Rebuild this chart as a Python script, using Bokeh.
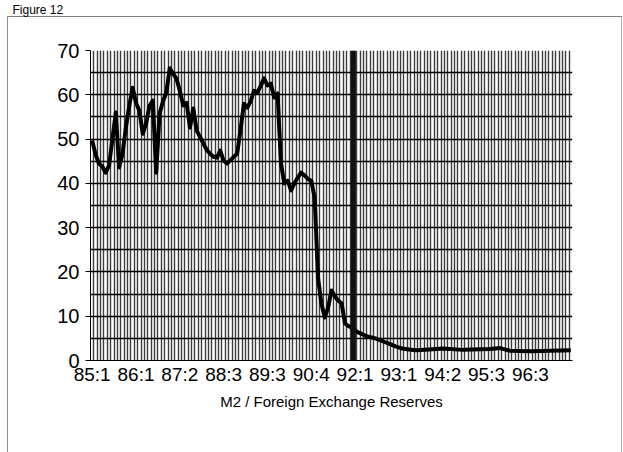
from bokeh.plotting import figure
from bokeh.models import FixedTicker, Range1d
from bokeh.embed import file_html
from bokeh.resources import INLINE

# ---- data ----
period_idx = [0, 1, 2, 3, 4, 5, 6, 7, 8, 9, 10, 11, 12, 13, 14, 15, 16, 17, 18, 19,
              20, 21, 22, 23, 24, 25, 26, 27, 28, 29, 30, 31, 32, 33, 34, 35, 36, 37, 38, 39,
              40, 41, 42, 43, 44, 45, 46, 47, 48, 49, 50, 51, 52, 53, 54, 55, 56, 57, 58, 59,
              60, 61, 62, 63, 64, 65, 66, 67, 68, 69, 70, 71, 72, 73, 74, 75, 76, 77, 78, 79,
              80, 81, 82, 83, 84, 86, 88, 90, 92, 94, 96, 100, 104, 110, 118, 121, 124, 130, 136, 142]
m2_fx_ratio = [49.7, 46.5, 44.5, 43.8, 42.4, 44.0, 50.0, 56.0, 43.6, 46.7, 52.6, 57.5, 61.6, 58.2, 56.4, 51.2, 53.5, 57.5, 58.7, 42.4,
               55.8, 58.5, 60.5, 66.0, 64.8, 63.7, 60.9, 57.6, 58.2, 52.6, 56.9, 51.9, 50.5, 49.0, 47.5, 46.7, 46.0, 45.8, 47.4, 45.1,
               44.5, 45.2, 46.0, 46.7, 52.0, 58.0, 57.1, 58.5, 60.9, 60.5, 62.0, 63.7, 62.1, 62.5, 59.4, 60.3, 44.5, 40.0, 40.6, 38.4,
               40.0, 41.3, 42.4, 41.8, 41.0, 40.6, 36.8, 18.7, 12.9, 9.7, 12.0, 15.8, 14.5, 13.5, 12.9, 8.4, 7.8, 7.4, 6.8, 6.3,
               6.0, 5.6, 5.4, 5.2, 5.0, 4.4, 3.8, 3.2, 2.7, 2.5, 2.3, 2.5, 2.7, 2.4, 2.6, 2.8, 2.2, 2.1, 2.2, 2.3]
tick_labels = ["85:1", "86:1", "87:2", "88:3", "89:3", "90:4", "92:1", "93:1", "94:2", "95:3", "96:3"]
label_step = 13
n_periods = 143
event_period = 78
y_ticks = [0, 10, 20, 30, 40, 50, 60, 70]
y_grid_vals = [0, 5, 10, 15, 20, 25, 30, 35, 40, 45, 50, 55, 60, 65, 70]
axis_title = "M2 / Foreign Exchange Reserves"
figure_title = "Figure 12"

FONT = "Liberation Sans"

W, H = 623, 452
BL, BR, BT, BB = 90, 51, 50, 92
p = figure(width=W, height=H, output_backend="svg", toolbar_location=None,
           x_range=Range1d(0, n_periods), y_range=Range1d(0, 70),
           min_border_left=BL, min_border_right=BR, min_border_top=BT, min_border_bottom=BB,
           background_fill_color="white", border_fill_color="white", border_fill_alpha=0.0)
p.outline_line_color = None

# scanned page frame (thin grey lines left, top, right) drawn as host background
p.styles = {
    "background": ("linear-gradient(#808080,#808080) 7px 16px / 615px 1px no-repeat, "
                   "linear-gradient(#8c8c8c,#8c8c8c) 7px 16px / 1px 436px no-repeat, "
                   "linear-gradient(#b0b0b0,#b0b0b0) 621px 16px / 1px 436px no-repeat, white")
}

# caption at the very top (bottom padding pushes it up, away from the plot)
p.title.text = figure_title
p.title.align = "left"
p.title.offset = -78
p.title.standoff = 0
p.title.padding = (0, 0, 0, 34)
p.title.text_font = FONT
p.title.text_font_size = "12px"
p.title.text_font_style = "normal"
p.title.text_color = "black"

# grids
p.ygrid.ticker = FixedTicker(ticks=y_grid_vals)
p.ygrid.grid_line_color = "black"
p.ygrid.grid_line_width = 1.4
p.xgrid.ticker = FixedTicker(ticks=list(range(0, n_periods + 1)))
p.xgrid.grid_line_color = "#1a1a1a"
p.xgrid.grid_line_alpha = 0.85
p.xgrid.grid_line_width = 1.4

# data line
xs = [i + 0.5 for i in period_idx]
p.line(xs, m2_fx_ratio, line_width=4, color="black", line_join="round")

# event marker
p.segment(x0=[event_period], y0=[0], x1=[event_period], y1=[70],
          line_width=5, color="#111111")

# y axis
p.yaxis.ticker = FixedTicker(ticks=y_ticks)
p.yaxis.major_tick_out = 5
p.yaxis.major_tick_in = 0
p.yaxis.minor_tick_out = 0
p.yaxis.axis_line_color = "black"
p.yaxis.major_label_text_font = FONT
p.yaxis.major_label_text_font_size = "20px"
p.yaxis.major_label_text_color = "black"
p.yaxis.major_label_standoff = 6

# x axis
tick_pos = [0.5 + label_step * k for k in range(len(tick_labels))]
p.xaxis.ticker = FixedTicker(ticks=tick_pos)
p.xaxis.major_label_overrides = {t: lab for t, lab in zip(tick_pos, tick_labels)}
p.xaxis.major_tick_out = 0
p.xaxis.major_tick_in = 0
p.xaxis.minor_tick_out = 0
p.xaxis.axis_line_color = "black"
p.xaxis.major_label_text_font = FONT
p.xaxis.major_label_text_font_size = "19px"
p.xaxis.major_label_text_color = "black"
p.xaxis.major_label_standoff = 3
p.xaxis.axis_label = axis_title
p.xaxis.axis_label_text_font = FONT
p.xaxis.axis_label_text_font_size = "15px"
p.xaxis.axis_label_text_font_style = "normal"
p.xaxis.axis_label_text_color = "black"
p.xaxis.axis_label_standoff = 5

open("out.html", "w").write(file_html(p, INLINE))
